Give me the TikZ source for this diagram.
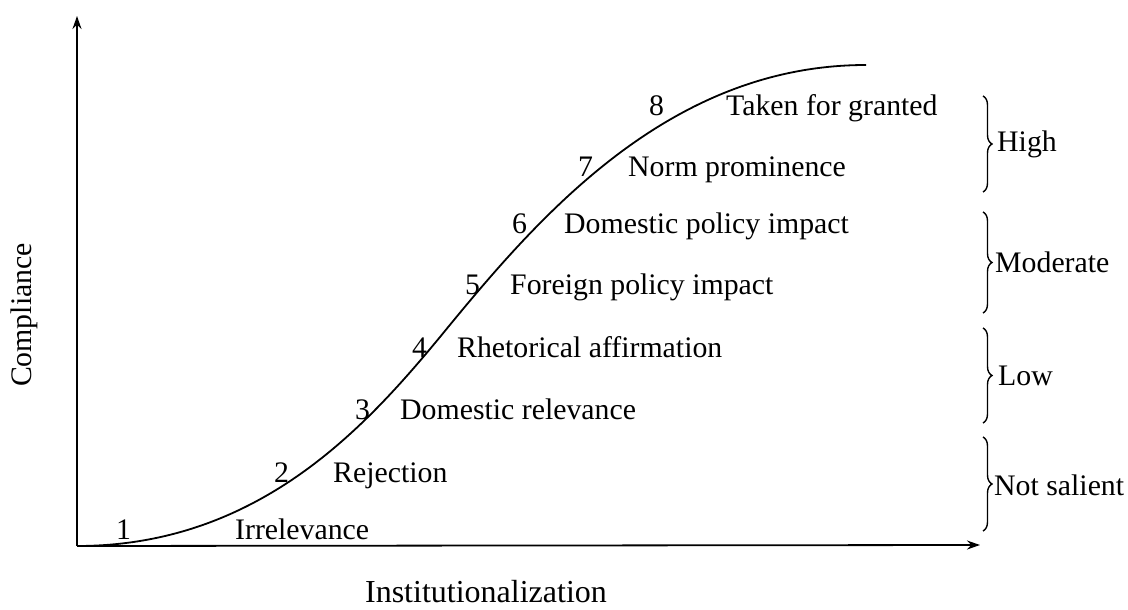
\documentclass[tikz,border=0pt]{standalone}
\usepackage{fontspec}
\setmainfont{Liberation Serif}
\usetikzlibrary{arrows.meta,decorations.pathreplacing}
\newcommand{\lblfont}{\fontsize{29.8}{34}\selectfont}
\newcommand{\axfont}{\fontsize{32}{36}\selectfont}
\tikzset{
  lbl/.style={font=\lblfont, inner sep=0pt, anchor=base west},
  axisline/.style={line width=1.8pt, -{Stealth[length=13pt,width=9pt]}},
  curveline/.style={line width=1.8pt},
  bracestyle/.style={line width=1.4pt, decorate, decoration={brace, amplitude=9pt}},
  lvl/.style={font=\lblfont, inner sep=0pt, anchor=west}
}
\begin{document}
\begin{tikzpicture}[x=1pt,y=-1pt]
\useasboundingbox (0,0) rectangle (1128,610);
% axes
\coordinate (O) at (77,546);
\coordinate (ytop) at (77,16);
\coordinate (xend) at (980,545);
\draw[axisline] (O) -- (ytop);
\draw[axisline] (O) -- (xend);
% curve
\coordinate (infl) at (440,337);
\coordinate (cend) at (866,65);
\draw[curveline] (O) .. controls (257,546) and (364,429) .. (infl)
  .. controls (534.5,221.5) and (666,65) .. (cend);
% stage numbers and labels
\node[lbl] (n1) at (116,539) {1};
\node[lbl] (t1) at (235,539) {Irrelevance};
\node[lbl] (n2) at (274,482) {2};
\node[lbl] (t2) at (333,482) {Rejection};
\node[lbl] (n3) at (355,419) {3};
\node[lbl] (t3) at (400,419) {Domestic relevance};
\node[lbl] (n4) at (412,357) {4};
\node[lbl] (t4) at (457,357) {Rhetorical affirmation};
\node[lbl] (n5) at (465,294) {5};
\node[lbl] (t5) at (510,294) {Foreign policy impact};
\node[lbl] (n6) at (512,233) {6};
\node[lbl] (t6) at (564,233) {Domestic policy impact};
\node[lbl] (n7) at (578,176) {7};
\node[lbl] (t7) at (628,176) {Norm prominence};
\node[lbl] (n8) at (649,115) {8};
\node[lbl] (t8) at (726,115) {Taken for granted};
% braces
\coordinate (h1) at (983,96);  \coordinate (h2) at (983,192);
\coordinate (m1) at (983,212); \coordinate (m2) at (983,313);
\coordinate (l1) at (983,328); \coordinate (l2) at (983,423);
\coordinate (s1) at (983,437); \coordinate (s2) at (983,531);
\draw[bracestyle] (h1) -- (h2);
\draw[bracestyle] (m1) -- (m2);
\draw[bracestyle] (l1) -- (l2);
\draw[bracestyle] (s1) -- (s2);
\node[lvl] (high) at (997,144) {High};
\node[lvl] (mod) at (995,262) {Moderate};
\node[lvl] (low) at (998,376) {Low};
\node[lvl] (ns) at (994,485) {Not salient};
% axis titles
\node[font=\lblfont, inner sep=0pt, rotate=90] (ylab) at (24,315) {Compliance};
\node[font=\axfont, inner sep=0pt, anchor=base] (xlab) at (486,602) {Institutionalization};
\end{tikzpicture}
\end{document}
